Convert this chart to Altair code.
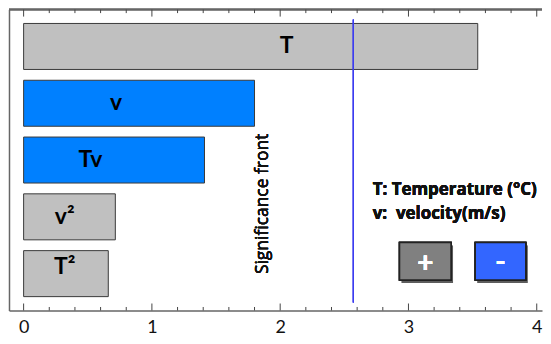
import altair as alt
import pandas as pd

# ---- data ----
terms = ["T", "v", "Tv", "v²", "T²"]
effects = [3.54, 1.80, 1.41, 0.715, 0.66]
signs = ["+", "-", "-", "+", "+"]
label_pos = [2.05, 0.72, 0.52, 0.32, 0.32]
raised_label = "T²"
sig_front = 2.57
major_ticks = [0, 1, 2, 3, 4]
minor_ticks = [0.2, 0.4, 0.6, 0.8, 1.2, 1.4, 1.6, 1.8, 2.2, 2.4, 2.6, 2.8,
               3.2, 3.4, 3.6, 3.8]
legend_lines = ["T: Temperature (°C)", "v:\u00a0 velocity(m/s)"]

FONT = "Lato"
FONT2 = "Open Sans"
W, H = 535, 302

df = pd.DataFrame({"term": terms, "effect": effects, "sign": signs,
                   "lx": label_pos})
df_major = pd.DataFrame({"t": major_ticks})
df_minor = pd.DataFrame({"t": minor_ticks})

xscale = alt.Scale(domain=[-0.114, 4.041], nice=False, zero=False)
yscale = alt.Scale(paddingInner=0.19, paddingOuter=0.244)

bars = alt.Chart(df).mark_bar(stroke="#3a3a3a", strokeWidth=1).encode(
    x=alt.X("effect:Q", scale=xscale, title=None,
            axis=alt.Axis(values=major_ticks, ticks=False, tickSize=0,
                          grid=False, labelFont=FONT, labelFontSize=18,
                          labelColor="#111", labelPadding=8,
                          domainColor="#666", domainWidth=1.5, format="d")),
    y=alt.Y("term:N", sort=None, scale=yscale, title=None,
            axis=alt.Axis(labels=False, ticks=False, tickSize=0, grid=False,
                          domainColor="#666", domainWidth=1.5)),
    color=alt.Color("sign:N", scale=alt.Scale(domain=["+", "-"],
                    range=["#c0c0c0", "#0080ff"]), legend=None),
)

def label_layer(test, dy):
    return alt.Chart(df).transform_filter(test).mark_text(
        font=FONT, fontSize=23, fontWeight="bold", color="#000", dy=dy
    ).encode(
        x=alt.X("lx:Q", title=None),
        y=alt.Y("term:N", sort=None, title=None),
        text="term:N",
    )

labels_a = label_layer(alt.datum.term != raised_label, 0)
labels_b = label_layer(alt.datum.term == raised_label, -7)

front = alt.Chart(df).mark_rule(color="#3c3cf0", strokeWidth=1).encode(
    x=alt.datum(sig_front), y=alt.value(10), y2=alt.value(294))

front_text = alt.Chart(df).mark_text(
    text="Significance front", angle=270, font=FONT2, fontSize=17.5,
    color="#111", baseline="middle", align="center").encode(
    x=alt.value(255), y=alt.value(195))

top_line = alt.Chart(df).mark_rule(color="#666", strokeWidth=1.5).encode(
    x=alt.value(0), x2=alt.value(W), y=alt.value(0))

def tick_layer(d, y0, y1):
    return alt.Chart(d).mark_rule(color="#444", strokeWidth=1).encode(
        x=alt.X("t:Q", title=None), y=alt.value(y0), y2=alt.value(y1))

ticks = [tick_layer(df_major, 0, 7), tick_layer(df_minor, 0, 3.5),
         tick_layer(df_major, H - 7, H), tick_layer(df_minor, H - 3.5, H)]

leg1 = alt.Chart(df).mark_text(text=legend_lines[0], font=FONT2, fontSize=17,
                               fontWeight="bold", align="left",
                               baseline="alphabetic", color="#111").encode(
    x=alt.value(365), y=alt.value(186))
leg2 = alt.Chart(df).mark_text(text=legend_lines[1], font=FONT2, fontSize=17,
                               fontWeight="bold", align="left",
                               baseline="alphabetic", color="#111").encode(
    x=alt.value(365), y=alt.value(210.5))

def box(x0, x1, fill, sym, ty):
    shadow = alt.Chart(df).mark_rect(fill="#000", opacity=0.18).encode(
        x=alt.value(x0 + 2), x2=alt.value(x1 + 2),
        y=alt.value(233.7 + 3), y2=alt.value(271.3 + 3))
    r = alt.Chart(df).mark_rect(fill=fill, stroke="#222",
                                strokeWidth=1.5).encode(
        x=alt.value(x0), x2=alt.value(x1),
        y=alt.value(233.7), y2=alt.value(271.3))
    t = alt.Chart(df).mark_text(text=sym, font=FONT, fontSize=28,
                                fontWeight="bold", color="white",
                                baseline="middle", align="center").encode(
        x=alt.value((x0 + x1) / 2), y=alt.value(ty))
    return [shadow, r, t]

boxes = box(392, 443.7, "#808080", "+", 255) + box(468, 518.7, "#3366ff", "-", 254)

chart = alt.layer(bars, labels_a, labels_b, front, front_text, top_line,
                  *ticks, leg1, leg2, *boxes).properties(
    width=W, height=H, padding=0
).configure_view(stroke=None)

chart.save("out.html", embed_options={"renderer": "svg", "actions": False})
